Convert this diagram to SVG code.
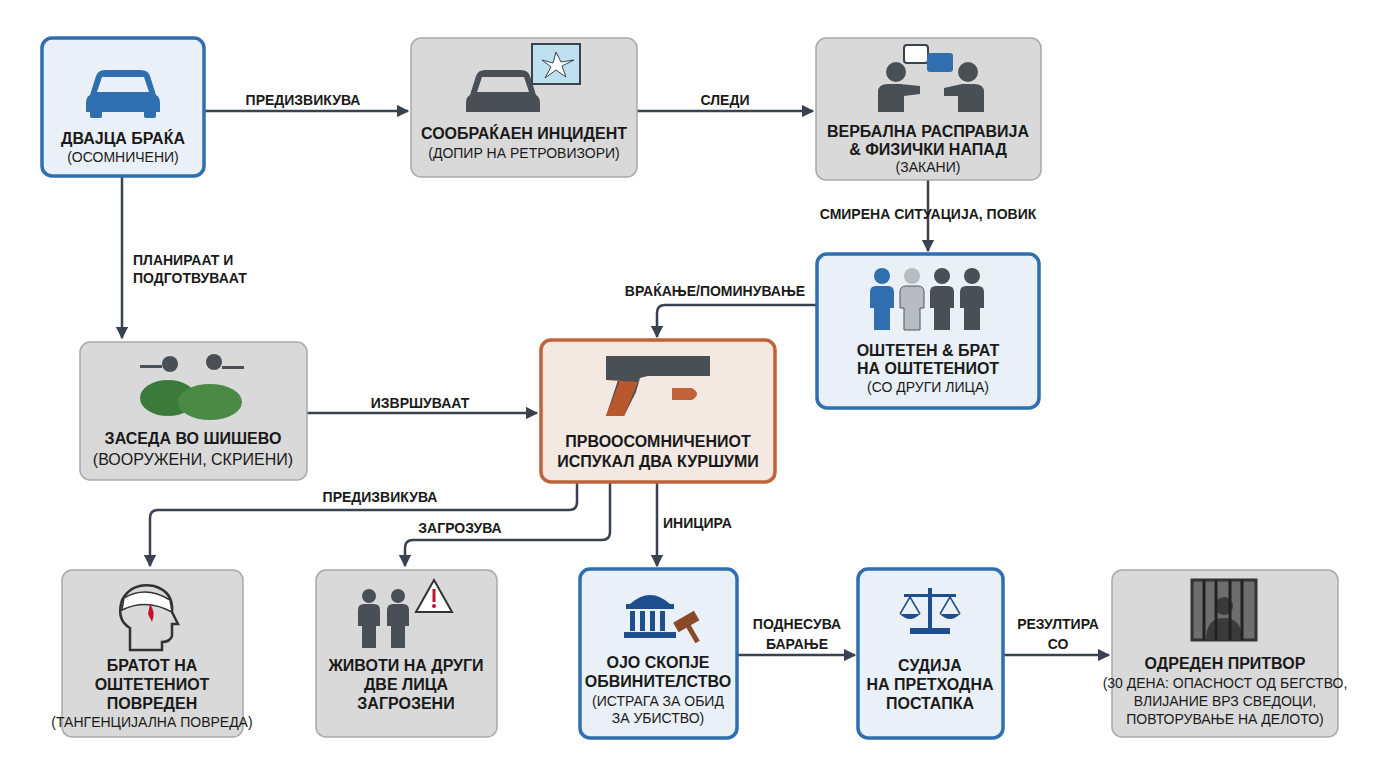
<svg xmlns="http://www.w3.org/2000/svg" width="1376" height="768" viewBox="0 0 1376 768">
<defs>
<style>
.g{fill:#d9d9d9;stroke:#a9a9a9;stroke-width:1.5}
.b{fill:#eaf0f7;stroke:#2f6fb0;stroke-width:3.5}
.o{fill:#f3e9e2;stroke:#c0633a;stroke-width:3.5}
.t{font-family:"Liberation Sans",Arial,sans-serif;font-size:16px;font-weight:bold;fill:#1a1a1a;text-anchor:middle}
.s{font-family:"Liberation Sans",Arial,sans-serif;font-size:14px;fill:#1a1a1a;text-anchor:middle}
.l{font-family:"Liberation Sans",Arial,sans-serif;font-size:14px;font-weight:bold;fill:#1a1a1a;text-anchor:middle}
.c{fill:none;stroke:#3a4250;stroke-width:2.5}
.ic{fill:#4a4f55}
.ib{fill:#2f6fb0}
</style>
<marker id="a" viewBox="0 0 10 10" refX="9" refY="5" markerWidth="5" markerHeight="5" orient="auto"><path d="M0,0 L10,5 L0,10 z" fill="#3a4250"/></marker>
</defs>
<rect width="1376" height="768" fill="#fff"/>
<g id="connectors">
<path class="c" d="M204,111 H408" marker-end="url(#a)"/>
<path class="c" d="M637,111 H813" marker-end="url(#a)"/>
<path class="c" d="M928,180 V251" marker-end="url(#a)"/>
<path class="c" d="M817,305 H665 Q657,305 657,313 V337" marker-end="url(#a)"/>
<path class="c" d="M122,176 V338" marker-end="url(#a)"/>
<path class="c" d="M307,413 H537" marker-end="url(#a)"/>
<path class="c" d="M577,482 V502 Q577,510 569,510 H158 Q150,510 150,518 V566" marker-end="url(#a)"/>
<path class="c" d="M610,482 V532 Q610,540 602,540 H413 Q405,540 405,548 V566" marker-end="url(#a)"/>
<path class="c" d="M657,482 V566" marker-end="url(#a)"/>
<path class="c" d="M737,655 H855" marker-end="url(#a)"/>
<path class="c" d="M1003,655 H1109" marker-end="url(#a)"/>
<text class="l" x="303" y="105">ПРЕДИЗВИКУВА</text>
<text class="l" x="725" y="105">СЛЕДИ</text>
<text class="l" x="928" y="219">СМИРЕНА СИТУАЦИЈА, ПОВИК</text>
<text class="l" x="715" y="296">ВРАЌАЊЕ/ПОМИНУВАЊЕ</text>
<text class="l" x="133" y="265" text-anchor="start" style="text-anchor:start">ПЛАНИРААТ И</text>
<text class="l" x="133" y="283" style="text-anchor:start">ПОДГОТВУВААТ</text>
<text class="l" x="420" y="408">ИЗВРШУВААТ</text>
<text class="l" x="380" y="502">ПРЕДИЗВИКУВА</text>
<text class="l" x="460" y="533">ЗАГРОЗУВА</text>
<text class="l" x="663" y="528" style="text-anchor:start">ИНИЦИРА</text>
<text class="l" x="797" y="629">ПОДНЕСУВА</text>
<text class="l" x="797" y="649">БАРАЊЕ</text>
<text class="l" x="1058" y="629">РЕЗУЛТИРА</text>
<text class="l" x="1058" y="649">СО</text>
</g>
<g id="n1">
<rect class="b" x="42" y="38" width="162" height="138" rx="10"/>
<path class="ib" d="M90,95 L96,76 Q98,70 105,70 H141 Q148,70 150,76 L156,95 Q160,97 160,103 V112 H86 V103 Q86,97 90,95 Z M97,92 H149 L144,77 H102 Z"/>
<rect class="ib" x="90" y="110" width="12" height="8" rx="2"/><rect class="ib" x="144" y="110" width="12" height="8" rx="2"/>
<text class="t" x="123" y="144">ДВАЈЦА БРАЌА</text>
<text class="s" x="123" y="162">(ОСОМНИЧЕНИ)</text>
</g>
<g id="n2">
<rect class="g" x="411" y="38" width="226" height="139" rx="10"/>
<path class="ic" d="M470,95 L476,76 Q478,70 485,70 H521 Q528,70 530,76 L536,95 Q540,97 540,103 V112 H466 V103 Q466,97 470,95 Z M477,92 H529 L524,77 H482 Z"/>
<rect x="532" y="44" width="48" height="40" fill="#bfe0ef" stroke="#3a4250" stroke-width="2"/>
<path d="M556,52 L553,63 L542,60 L551,67 L545,78 L556,70 L566,77 L562,66 L574,60 L561,62 Z" fill="#fff" stroke="#3a4250" stroke-width="1"/>
<text class="t" x="524" y="139">СООБРАЌАЕН ИНЦИДЕНТ</text>
<text class="s" x="524" y="158">(ДОПИР НА РЕТРОВИЗОРИ)</text>
</g>
<g id="n3">
<rect class="g" x="816" y="38" width="225" height="142" rx="10"/>
<circle class="ic" cx="896" cy="72" r="10"/><path class="ic" d="M878,112 V92 Q878,84 888,84 H900 L920,86 V94 L904,96 V112 Z"/>
<circle class="ic" cx="968" cy="72" r="10"/><path class="ic" d="M984,112 V92 Q984,84 974,84 H962 L944,88 V96 L958,96 V112 Z"/>
<rect x="904" y="45" width="24" height="18" rx="3" fill="#fff" stroke="#3a4250" stroke-width="2"/>
<rect x="927" y="53" width="26" height="19" rx="3" class="ib"/>
<text class="t" x="928" y="137">ВЕРБАЛНА РАСПРАВИЈА</text>
<text class="t" x="928" y="155">&amp; ФИЗИЧКИ НАПАД</text>
<text class="s" x="928" y="172">(ЗАКАНИ)</text>
</g>
<g id="n4">
<rect class="b" x="817" y="254" width="222" height="154" rx="10"/>
<g><circle cx="882" cy="276" r="8" class="ib"/><path class="ib" d="M870,308 V292 Q870,286 876,286 H888 Q894,286 894,292 V308 H890 V330 H874 V308 Z"/></g>
<g><circle cx="912" cy="276" r="8" fill="#b8bcc0"/><path fill="#b8bcc0" stroke="#555" d="M900,308 V292 Q900,286 906,286 H918 Q924,286 924,292 V308 H920 V330 H904 V308 Z"/></g>
<g><circle cx="942" cy="276" r="8" class="ic"/><path class="ic" d="M930,308 V292 Q930,286 936,286 H948 Q954,286 954,292 V308 H950 V330 H934 V308 Z"/></g>
<g><circle cx="972" cy="276" r="8" class="ic"/><path class="ic" d="M960,308 V292 Q960,286 966,286 H978 Q984,286 984,292 V308 H980 V330 H964 V308 Z"/></g>
<text class="t" x="928" y="356">ОШТЕТЕН &amp; БРАТ</text>
<text class="t" x="928" y="374">НА ОШТЕТЕНИОТ</text>
<text class="s" x="928" y="392">(СО ДРУГИ ЛИЦА)</text>
</g>
<g id="n5">
<rect class="g" x="80" y="342" width="227" height="138" rx="10"/>
<circle cx="170" cy="364" r="8" class="ic"/><circle cx="214" cy="362" r="8" class="ic"/>
<rect x="140" y="365" width="22" height="3" class="ic"/><rect x="222" y="366" width="22" height="3" class="ic"/>
<ellipse cx="168" cy="398" rx="28" ry="18" fill="#3c7a3c"/><ellipse cx="210" cy="402" rx="32" ry="18" fill="#4a8a44"/>
<text class="t" x="193" y="444">ЗАСЕДА ВО ШИШЕВО</text>
<text class="s" x="193" y="465" style="font-size:16px">(ВООРУЖЕНИ, СКРИЕНИ)</text>
</g>
<g id="n6">
<rect class="o" x="541" y="340" width="234" height="142" rx="10"/>
<path class="ic" d="M606,356 H710 V376 H648 L640,378 L636,392 L624,416 H606 L618,380 H606 Z"/>
<path d="M608,380 L620,380 L606,416 L624,416 L638,382 Z" fill="#b8582c"/>
<path d="M672,388 H692 Q702,394 692,400 H672 Z" fill="#c0633a"/>
<text class="t" x="658" y="447">ПРВООСОМНИЧЕНИОТ</text>
<text class="t" x="658" y="467">ИСПУКАЛ ДВА КУРШУМИ</text>
</g>
<g id="n7">
<rect class="g" x="62" y="570" width="181" height="167" rx="10"/>
<path d="M130,650 V628 Q116,620 122,600 Q132,582 154,586 Q174,592 172,612 L178,624 H172 V636 Q170,642 162,642 V650 Z" fill="none" stroke="#333" stroke-width="2.5"/>
<path d="M124,598 Q146,585 170,600 L172,612 Q146,598 122,610 Z" fill="#fff" stroke="#333" stroke-width="1.5"/>
<path d="M150,604 Q156,612 152,622 L148,614 Z" fill="#c8102e"/>
<text class="t" x="152" y="671">БРАТОТ НА</text>
<text class="t" x="152" y="690">ОШТЕТЕНИОТ</text>
<text class="t" x="152" y="709">ПОВРЕДЕН</text>
<text class="s" x="152" y="727">(ТАНГЕНЦИЈАЛНА ПОВРЕДА)</text>
</g>
<g id="n8">
<rect class="g" x="316" y="570" width="181" height="167" rx="10"/>
<circle cx="369" cy="596" r="7" class="ic"/><path class="ic" d="M358,626 V610 Q358,604 364,604 H374 Q380,604 380,610 V626 H376 V648 H362 V626 Z"/>
<circle cx="398" cy="596" r="7" class="ic"/><path class="ic" d="M387,626 V610 Q387,604 393,604 H403 Q409,604 409,610 V626 H405 V648 H391 V626 Z"/>
<path d="M434,580 L452,612 H416 Z" fill="#fff" stroke="#333" stroke-width="2"/>
<rect x="432.5" y="589" width="3" height="13" fill="#c8102e"/><circle cx="434" cy="606" r="2" fill="#c8102e"/>
<text class="t" x="406" y="671">ЖИВОТИ НА ДРУГИ</text>
<text class="t" x="406" y="690">ДВЕ ЛИЦА</text>
<text class="t" x="406" y="709">ЗАГРОЗЕНИ</text>
</g>
<g id="n9">
<rect class="b" x="580" y="569" width="157" height="169" rx="10"/>
<path d="M630,604 Q650,586 670,604 Z" fill="#1f4e8c"/>
<rect x="626" y="604" width="48" height="5" fill="#1f4e8c"/>
<rect x="630" y="611" width="5" height="20" fill="#1f4e8c"/><rect x="640" y="611" width="5" height="20" fill="#1f4e8c"/><rect x="650" y="611" width="5" height="20" fill="#1f4e8c"/><rect x="660" y="611" width="5" height="20" fill="#1f4e8c"/>
<rect x="624" y="632" width="52" height="6" fill="#1f4e8c"/>
<rect x="674" y="616" width="24" height="11" fill="#8a4a2a" transform="rotate(-30 686 621)"/><rect x="683" y="625" width="5" height="20" fill="#8a4a2a" transform="rotate(-30 686 621)"/>
<text class="t" x="658" y="668">ОЈО СКОПЈЕ</text>
<text class="t" x="658" y="687">ОБВИНИТЕЛСТВО</text>
<text class="s" x="658" y="706">(ИСТРАГА ЗА ОБИД</text>
<text class="s" x="658" y="723">ЗА УБИСТВО)</text>
</g>
<g id="n10">
<rect class="b" x="858" y="569" width="145" height="169" rx="10"/>
<rect x="928" y="588" width="4" height="40" fill="#1f4e8c"/><rect x="904" y="594" width="52" height="3" fill="#1f4e8c"/>
<path d="M900,614 Q910,624 920,614 Z M940,614 Q950,624 960,614 Z" fill="#1f4e8c"/>
<path d="M910,597 L900,614 M910,597 L920,614 M950,597 L940,614 M950,597 L960,614" stroke="#1f4e8c" stroke-width="1.5"/>
<rect x="910" y="628" width="40" height="6" fill="#1f4e8c"/>
<text class="t" x="930" y="671">СУДИЈА</text>
<text class="t" x="930" y="690">НА ПРЕТХОДНА</text>
<text class="t" x="930" y="709">ПОСТАПКА</text>
</g>
<g id="n11">
<rect class="g" x="1112" y="570" width="226" height="167" rx="10"/>
<rect x="1192" y="580" width="64" height="60" fill="#6e6e6e" stroke="#333" stroke-width="3"/>
<circle cx="1224" cy="606" r="9" fill="#3a3a3a"/><path d="M1206,640 Q1206,618 1224,618 Q1242,618 1242,640 Z" fill="#3a3a3a"/>
<path d="M1204,580 V640 M1216,580 V640 M1230,580 V640 M1242,580 V640" stroke="#222" stroke-width="3"/>
<text class="t" x="1225" y="669">ОДРЕДЕН ПРИТВОР</text>
<text class="s" x="1225" y="688">(30 ДЕНА: ОПАСНОСТ ОД БЕГСТВО,</text>
<text class="s" x="1225" y="706">ВЛИЈАНИЕ ВРЗ СВЕДОЦИ,</text>
<text class="s" x="1225" y="724">ПОВТОРУВАЊЕ НА ДЕЛОТО)</text>
</g>
</svg>
